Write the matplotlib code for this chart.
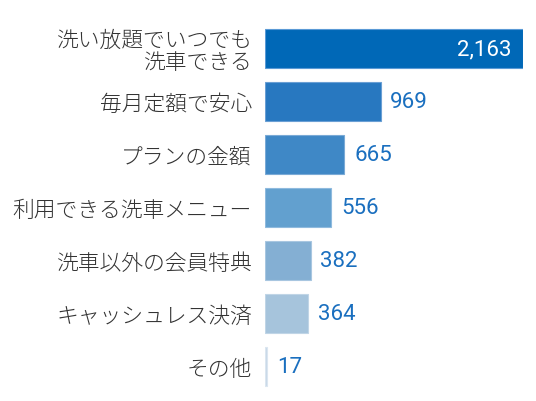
import matplotlib.pyplot as plt

plt.rcParams['font.family'] = ['Noto Sans CJK JP', 'DejaVu Sans']

# data
labels = ['洗い放題でいつでも\n洗車できる', '毎月定額で安心', 'プランの金額',
          '利用できる洗車メニュー', '洗車以外の会員特典', 'キャッシュレス決済', 'その他']
values = [2163, 969, 665, 556, 382, 364, 17]
colors = ['#0068b7', '#2878c0', '#3f88c6', '#62a0cf', '#84afd3', '#a6c4dc', '#c8d8e8']
edges = ['#5a9ad6', '#6a9fd4', '#7aaad6', '#8fbade', '#a8c6e0', '#c0d5e6', '#dbe6f0']

num_family = ['Liberation Sans Narrow', 'Roboto', 'DejaVu Sans']

fig = plt.figure(figsize=(5.36, 4.02), dpi=100)
ax = fig.add_axes([265 / 536, 8 / 402, 258 / 536, 371 / 402])

ypos = list(range(len(values)))
ax.barh(ypos, values, height=0.72, color=colors, edgecolor=edges, linewidth=0.8)
ax.set_xlim(0, 2163)
ax.set_ylim(len(values) - 0.5, -0.5)

ax.set_yticks(ypos)
ax.set_yticklabels(labels, fontsize=15.7, color='#333333', linespacing=1.0,
                   fontweight='light')
ax.tick_params(axis='y', length=0, pad=9.5)
for t in ax.get_yticklabels():
    t.set_horizontalalignment('right')
    t.set_multialignment('right')
ax.set_xticks([])
for s in ax.spines.values():
    s.set_visible(False)

for i, v in enumerate(values):
    txt = f'{v:,}'
    if i == 0:
        ax.annotate(txt, (v, i), xytext=(-8, 0), textcoords='offset points',
                    ha='right', va='center', color='white', fontsize=16,
                    family=num_family)
    else:
        ax.annotate(txt, (v, i), xytext=(7, 0), textcoords='offset points',
                    ha='left', va='center', color='#1a6fbf', fontsize=16,
                    family=num_family)

fig.savefig('out.png', dpi=100)
